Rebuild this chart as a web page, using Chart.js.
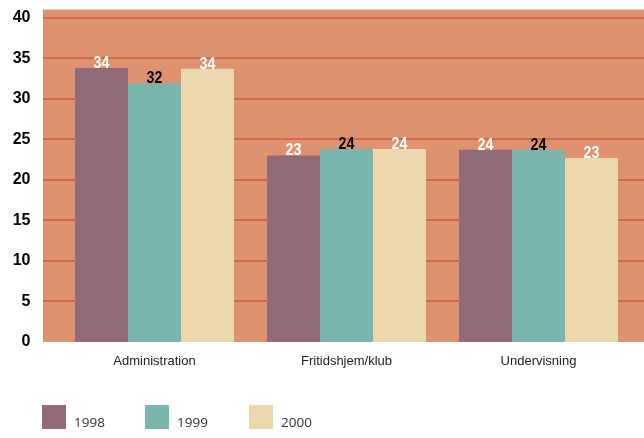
<!DOCTYPE html>
<html>
<head>
<meta charset="utf-8">
<script src="https://cdn.jsdelivr.net/npm/chart.js@4"></script>
<style>
  html, body { margin: 0; padding: 0; background: #fff; }
  #wrap { position: relative; width: 644px; height: 438px; overflow: hidden; }
  #chart { position: absolute; left: 0; top: 0; }
  .lg-box { position: absolute; top: 405px; width: 24px; height: 24px; }
  .lg-txt { position: absolute; top: 413px; font: 13.5px "Open Sans", sans-serif; color: #333; line-height: 18px; }
</style>
</head>
<body>
<div id="wrap">
  <canvas id="chart" width="644" height="438"></canvas>
  <div id="legend"></div>
</div>
<script>
// data
const categories = ['Administration', 'Fritidshjem/klub', 'Undervisning'];
const years = ['1998', '1999', '2000'];
const values1998 = [33.8, 23.0, 23.7];
const values1999 = [31.9, 23.8, 23.7];
const values2000 = [33.7, 23.8, 22.7];
const yTicks = [0, 5, 10, 15, 20, 25, 30, 35, 40];

const barColors = ['#926b79', '#7ab5ae', '#edd7ae'];
const labelColors = ['#ffffff', '#000000', '#ffffff'];

// background band + grid lines, wider than the category area
const bgPlugin = {
    id: 'bgPlugin',
    beforeDatasetsDraw(chart) {
        const ctx = chart.ctx;
        const area = chart.chartArea;
        const y = chart.scales.y;
        const left = area.left - 15.5;
        const right = chart.width;
        ctx.save();
        ctx.fillStyle = '#df926f';
        ctx.fillRect(left, area.top, right - left, area.bottom - area.top);
        ctx.strokeStyle = '#d2684a';
        ctx.lineWidth = 2;
        yTicks.forEach(v => {
            if (v === 0) return;
            const py = Math.round(y.getPixelForValue(v));
            ctx.beginPath();
            ctx.moveTo(left, py);
            ctx.lineTo(right, py);
            ctx.stroke();
        });
        ctx.restore();
    }
};

// value labels above bars (condensed bold look)
const valueLabels = {
    id: 'valueLabels',
    afterDatasetsDraw(chart) {
        const ctx = chart.ctx;
        const sx = 0.84;
        ctx.save();
        ctx.font = 'bold 17px "Liberation Sans", sans-serif';
        ctx.textAlign = 'center';
        ctx.textBaseline = 'alphabetic';
        chart.data.datasets.forEach((ds, i) => {
            const meta = chart.getDatasetMeta(i);
            ctx.fillStyle = labelColors[i];
            meta.data.forEach((bar, j) => {
                ctx.save();
                ctx.translate(bar.x, bar.y);
                ctx.scale(sx, 1);
                ctx.fillText(Math.round(ds.data[j]), 0, 0);
                ctx.restore();
            });
        });
        ctx.restore();
    }
};

const chart = new Chart(document.getElementById('chart'), {
    type: 'bar',
    data: {
        labels: categories,
        datasets: [
            { label: years[0], data: values1998, backgroundColor: barColors[0] },
            { label: years[1], data: values1999, backgroundColor: barColors[1] },
            { label: years[2], data: values2000, backgroundColor: barColors[2] }
        ]
    },
    options: {
        responsive: false,
        animation: false,
        devicePixelRatio: 1,
        layout: { padding: { left: 0, right: 9.5, top: 9.5, bottom: 0 } },
        datasets: {
            bar: { barPercentage: 1, categoryPercentage: 0.828 }
        },
        plugins: {
            legend: { display: false },
            tooltip: { enabled: false }
        },
        scales: {
            x: {
                grid: { display: false, drawTicks: false },
                border: { display: false },
                ticks: {
                    color: '#222',
                    padding: 12,
                    font: { family: '"Liberation Sans", sans-serif', size: 13 }
                },
                afterFit(scale) { scale.height = 96; }
            },
            y: {
                min: 0,
                max: 41,
                grid: { display: false, drawTicks: false },
                border: { display: false },
                afterBuildTicks(scale) {
                    scale.ticks = yTicks.map(v => ({ value: v }));
                },
                ticks: {
                    color: '#000',
                    padding: 28,
                    font: { family: '"Liberation Sans", sans-serif', size: 16, weight: 'bold' }
                },
                afterFit(scale) {
                    scale.width = 58.5;
                    scale.paddingTop = 0;
                    scale.paddingBottom = 0;
                }
            }
        }
    },
    plugins: [bgPlugin, valueLabels]
});

// legend
const legend = document.getElementById('legend');
const boxX = [42, 145, 249];
const txtX = [74, 177, 281];
years.forEach((yr, i) => {
    const b = document.createElement('div');
    b.className = 'lg-box';
    b.style.left = boxX[i] + 'px';
    b.style.background = barColors[i];
    legend.appendChild(b);
    const t = document.createElement('div');
    t.className = 'lg-txt';
    t.style.left = txtX[i] + 'px';
    t.textContent = yr;
    legend.appendChild(t);
});
</script>
</body>
</html>
